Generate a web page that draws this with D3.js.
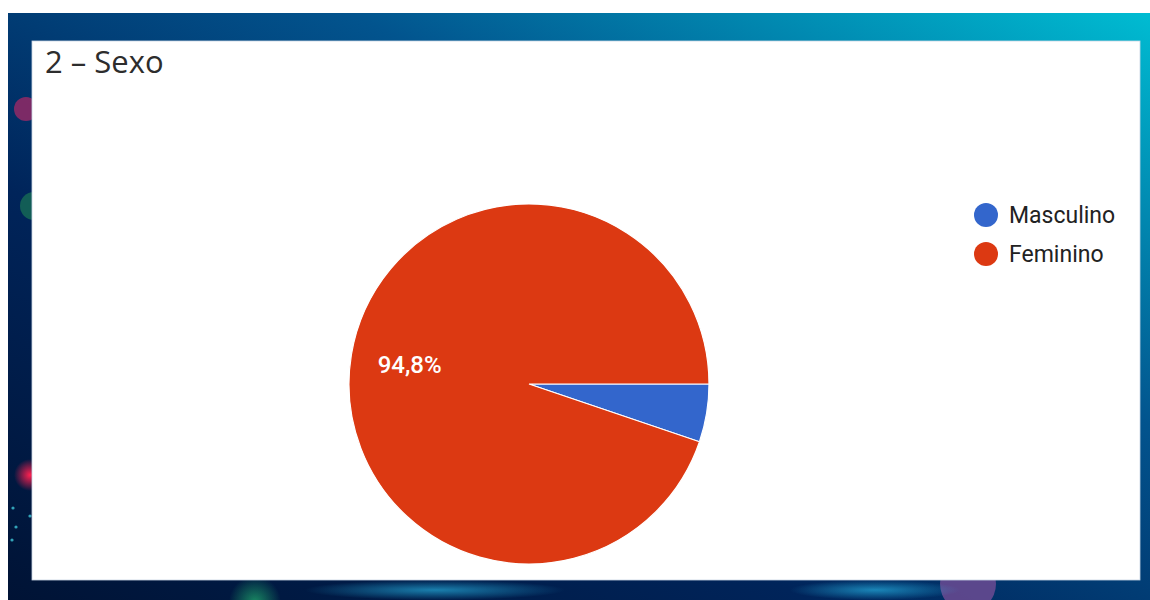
<!DOCTYPE html>
<html>
<head>
<meta charset="utf-8">
<script src="https://cdn.jsdelivr.net/npm/d3@7"></script>
<style>
  html, body { margin: 0; padding: 0; background: #fff; }
  svg { display: block; }
</style>
</head>
<body>
<svg id="chart" width="1150" height="600"></svg>
<script>
// Responses to question "2 – Sexo"
const categories = ["Masculino", "Feminino"];
const shares = [5.2, 94.8];
const colors = ["#3366cc", "#dc3912"];
const title = "2 – Sexo";

const svg = d3.select("#chart");
const defs = svg.append("defs");

// Backdrop: dark navy to cyan sweep
const bg = defs.append("linearGradient").attr("id", "bg")
  .attr("x1", "0%").attr("y1", "100%").attr("x2", "100%").attr("y2", "0%");
bg.append("stop").attr("offset", "0%").attr("stop-color", "#001335");
bg.append("stop").attr("offset", "35%").attr("stop-color", "#00245a");
bg.append("stop").attr("offset", "65%").attr("stop-color", "#02548e");
bg.append("stop").attr("offset", "100%").attr("stop-color", "#00bcd2");

function glow(id, color, opacity) {
  const g = defs.append("radialGradient").attr("id", id);
  g.append("stop").attr("offset", "0%").attr("stop-color", color).attr("stop-opacity", opacity);
  g.append("stop").attr("offset", "100%").attr("stop-color", color).attr("stop-opacity", 0);
}
glow("glowRed", "#ff2050", 1);
glow("glowGreen", "#1fa36a", 0.8);
glow("glowCyan", "#2fd0ff", 0.55);

svg.append("rect").attr("x", 8).attr("y", 13).attr("width", 1142).attr("height", 587)
  .attr("fill", "url(#bg)");

// Decorative bokeh and glows in the border
const deco = svg.append("g");
deco.append("circle").attr("cx", 26).attr("cy", 109).attr("r", 12).attr("fill", "#8a2a66").attr("opacity", 0.9);
deco.append("circle").attr("cx", 34).attr("cy", 206).attr("r", 14).attr("fill", "#166b55").attr("opacity", 0.8);
deco.append("circle").attr("cx", 30).attr("cy", 475).attr("r", 16).attr("fill", "url(#glowRed)");
deco.append("circle").attr("cx", 255).attr("cy", 602).attr("r", 26).attr("fill", "url(#glowGreen)");
deco.append("circle").attr("cx", 968).attr("cy", 584).attr("r", 28).attr("fill", "#7a4f98").attr("opacity", 0.75);
deco.append("rect").attr("x", 305).attr("y", 580).attr("width", 260).attr("height", 20).attr("fill", "url(#glowCyan)");
deco.append("rect").attr("x", 790).attr("y", 580).attr("width", 170).attr("height", 20).attr("fill", "url(#glowCyan)");
[[13,508],[16,527],[12,540],[30,516]].forEach(([x, y]) =>
  deco.append("circle").attr("cx", x).attr("cy", y).attr("r", 1.6).attr("fill", "#3fc7d8").attr("opacity", 0.8));

// White card
svg.append("rect").attr("x", 32).attr("y", 41).attr("width", 1108).attr("height", 539)
  .attr("fill", "#ffffff").attr("stroke", "#c8d4e4").attr("stroke-width", 0.8);

svg.append("text").attr("x", 45).attr("y", 73)
  .attr("font-family", "'Open Sans', Roboto, sans-serif").attr("font-size", 31)
  .attr("fill", "#2d2d2d").text(title);

// Pie
const cx = 529, cy = 384, radius = 180;
const data = categories.map((c, i) => ({ name: c, value: shares[i] }));
const color = d3.scaleOrdinal().domain(categories).range(colors);

const pie = d3.pie().value(d => d.value).sort(null)
  .startAngle(Math.PI / 2).endAngle(Math.PI / 2 + 2 * Math.PI);
const arcs = pie(data);
const arc = d3.arc().innerRadius(0).outerRadius(radius);
const labelArc = d3.arc().innerRadius(121).outerRadius(121);

const pg = svg.append("g").attr("transform", `translate(${cx},${cy})`);
pg.selectAll("path").data(arcs).join("path")
  .attr("d", arc)
  .attr("fill", d => color(d.data.name))
  .attr("stroke", "#ffffff").attr("stroke-width", 1.2);

const fmt = v => d3.format(".1f")(v).replace(".", ",") + "%";
pg.selectAll("text").data(arcs.filter(d => d.data.value >= 10)).join("text")
  .attr("transform", d => `translate(${labelArc.centroid(d)})`)
  .attr("text-anchor", "middle").attr("dy", "0.35em")
  .attr("font-family", "Roboto, Arial, sans-serif").attr("font-size", 24).attr("font-weight", 500)
  .attr("fill", "#ffffff")
  .text(d => fmt(d.data.value));

// Legend
const lg = svg.append("g").attr("transform", "translate(986,215)");
const items = lg.selectAll("g").data(categories).join("g")
  .attr("transform", (d, i) => `translate(0,${i * 39})`);
items.append("circle").attr("r", 12).attr("fill", d => color(d));
items.append("text").attr("x", 23).attr("dy", "0.36em")
  .attr("font-family", "Roboto, Arial, sans-serif").attr("font-size", 23)
  .attr("fill", "#222222").text(d => d);
</script>
</body>
</html>
